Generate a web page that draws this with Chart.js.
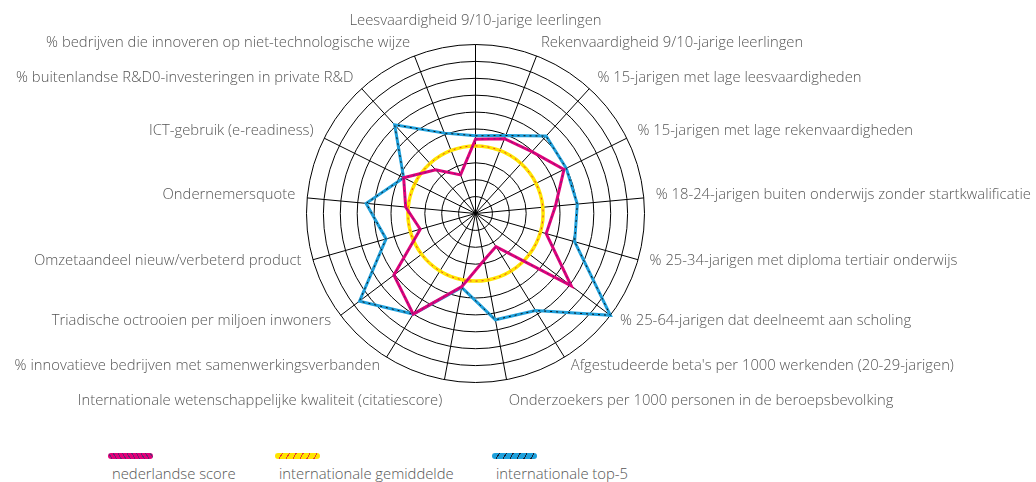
<!DOCTYPE html>
<html>
<head>
<meta charset="utf-8">
<script src="https://cdn.jsdelivr.net/npm/chart.js@4/dist/chart.umd.min.js"></script>
<style>
  html, body { margin: 0; padding: 0; background: #fff; overflow: hidden; }
  #wrap { position: relative; width: 1036px; height: 482px; }
  #chart { position: absolute; left: 0; top: 0; }
  .sw { position: absolute; top: 453px; width: 45px; height: 6px; border-radius: 3px; }
  .lbl { position: absolute; top: 463px; font: 300 14.8px "Open Sans", sans-serif; color: #555; white-space: nowrap; }
</style>
</head>
<body>
<div id="wrap">
  <canvas id="chart" width="1036" height="440"></canvas>
  <div class="sw" style="left:108px;background:repeating-linear-gradient(60deg,#e2007a 0 3px,#6c2472 3px 4px);"></div>
  <div class="lbl" style="left:112px;">nederlandse score</div>
  <div class="sw" style="left:275px;background:repeating-linear-gradient(-60deg,#ffe500 0 5px,#e8402a 5px 6px);"></div>
  <div class="lbl" style="left:279px;">internationale gemiddelde</div>
  <div class="sw" style="left:492px;background:repeating-linear-gradient(-60deg,#1ea0dc 0 5px,#16233a 5px 6px);"></div>
  <div class="lbl" style="left:496px;">internationale top-5</div>
</div>
<script>
const indicators = [
    "Leesvaardigheid 9/10-jarige leerlingen",
    "Rekenvaardigheid 9/10-jarige leerlingen",
    "% 15-jarigen met lage leesvaardigheden",
    "% 15-jarigen met lage rekenvaardigheden",
    "% 18-24-jarigen buiten onderwijs zonder startkwalificatie",
    "% 25-34-jarigen met diploma tertiair onderwijs",
    "% 25-64-jarigen dat deelneemt aan scholing",
    "Afgestudeerde beta's per 1000 werkenden (20-29-jarigen)",
    "Onderzoekers per 1000 personen in de beroepsbevolking",
    "Internationale wetenschappelijke kwaliteit (citatiescore)",
    "% innovatieve bedrijven met samenwerkingsverbanden",
    "Triadische octrooien per miljoen inwoners",
    "Omzetaandeel nieuw/verbeterd product",
    "Ondernemersquote",
    "ICT-gebruik (e-readiness)",
    "% buitenlandse R&D0-investeringen in private R&D",
    "% bedrijven die innoveren op niet-technologische wijze",
];
const nederlandseScore = [4.4, 4.75, 4.95, 5.85, 4.75, 4.35, 7.1, 2.3, 2.8, 4.4, 7.0, 6.05, 3.4, 4.15, 4.75, 3.5, 2.45];
const internationaleGemiddelde = [4, 4, 4, 4, 4, 4, 4, 4, 4, 4, 4, 4, 4, 4, 4, 4, 4];
const internationaleTop5 = [4.6, 4.95, 6.2, 6.0, 6.05, 6.1, 10, 6.75, 6.4, 4.45, 7.0, 8.6, 5.5, 6.5, 4.75, 7.1, 5.1];
const scaleMax = 10;

// where the web on the reference sits
const CENTER_X = 475.5;
const CENTER_Y = 213.5;
const RADIUS = 169;

// keep the radar at a fixed spot, labels may run off the canvas like in the original
const pinRadar = {
    id: "pinRadar",
    beforeLayout(chart) {
        const scale = chart.scales.r;
        if (scale._pinned) return;
        const setDims = scale.setDimensions;
        scale.setDimensions = function () {
            setDims.call(this);
            this.xCenter = CENTER_X;
            this.yCenter = CENTER_Y;
            this.drawingArea = RADIUS;
        };
        scale.setCenterPoint = function () {};
        scale._pinned = true;
    },
    // side labels are centred on their spoke, only top and bottom ones sit above/below
    afterLayout(chart) {
        const scale = chart.scales.r;
        (scale._pointLabelItems || []).forEach((item, i) => {
            const deg = Math.round((scale.getIndexAngle(i) * 180) / Math.PI);
            const h = item.bottom - item.top;
            let shift = 0;
            if ((deg > 15 && deg < 90) || (deg > 270 && deg < 345)) shift = h / 2 - 2;
            else if ((deg > 90 && deg < 165) || (deg > 195 && deg < 270)) shift = -h / 2 - 2;
            item.y += shift;
            item.top += shift;
            item.bottom += shift;
        });
    },
};

// coloured line plus a thin dashed line on top of it
function series(data, color, dashColor, width, tension) {
    return [
        {
            data: data,
            borderColor: dashColor,
            borderWidth: 1,
            borderDash: [2, 4],
            tension: tension,
        },
        {
            data: data,
            borderColor: color,
            borderWidth: width,
            tension: tension,
        },
    ];
}

new Chart(document.getElementById("chart"), {
    type: "radar",
    data: {
        labels: indicators,
        datasets: [
            ...series(nederlandseScore, "#e2007a", "#5b2a7c", 3, 0),
            ...series(internationaleGemiddelde, "#ffe500", "#e8402a", 3.5, 0.34),
            ...series(internationaleTop5, "#1ea0dc", "#111111", 3, 0),
        ],
    },
    options: {
        responsive: false,
        animation: false,
        devicePixelRatio: 1,
        elements: {
            point: { radius: 0, hoverRadius: 0 },
            line: { fill: false },
        },
        plugins: {
            legend: { display: false },
            tooltip: { enabled: false },
        },
        scales: {
            r: {
                min: 0,
                max: scaleMax,
                ticks: { display: false, stepSize: 1 },
                grid: { circular: true, color: "#000", lineWidth: 1 },
                angleLines: { color: "#000", lineWidth: 1 },
                pointLabels: {
                    padding: (ctx) => (ctx.index === 0 ? 15 : 12),
                    color: "#555",
                    font: { family: "'Open Sans', sans-serif", size: 14.8, weight: 300 },
                },
            },
        },
    },
    plugins: [pinRadar],
});
</script>
</body>
</html>
